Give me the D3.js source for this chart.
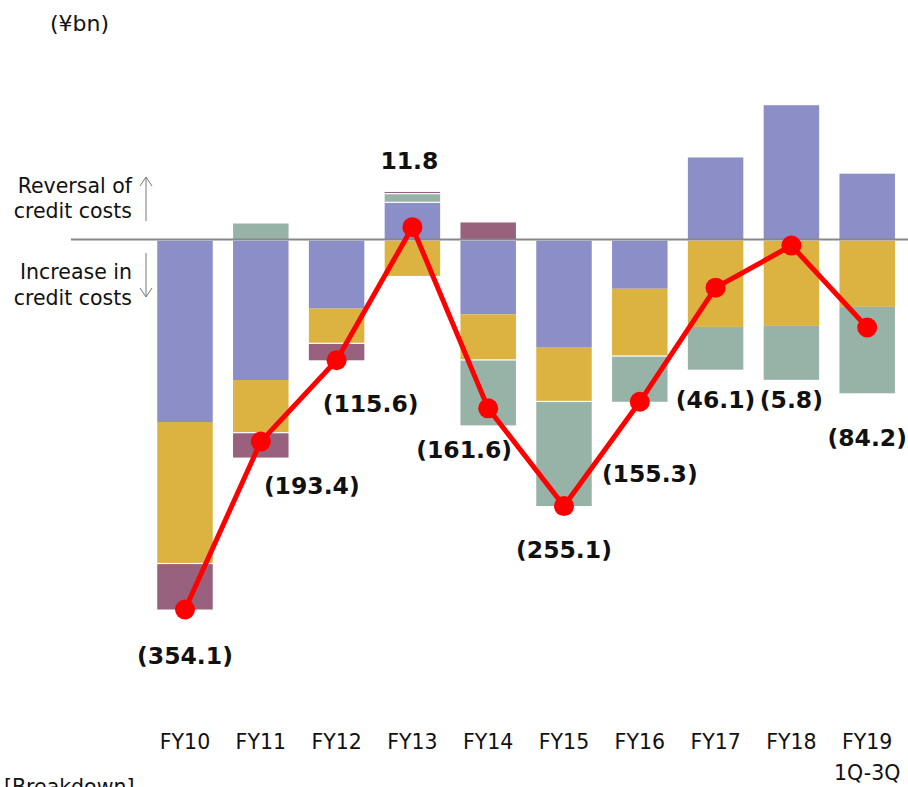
<!DOCTYPE html>
<html>
<head>
<meta charset="utf-8">
<style>
  body { margin: 0; background: #fff; }
  svg { display: block; }
  text { font-family: "DejaVu Sans", Verdana, sans-serif; fill: #111; }
  .val { font-weight: bold; font-size: 23.5px; }
  .tick { font-size: 20.5px; }
  .side { font-size: 20.5px; }
  .unit { font-size: 22px; }
</style>
<script src="https://cdn.jsdelivr.net/npm/d3@7"></script>
</head>
<body>
<script>
// data (¥bn)
var years = ["FY10","FY11","FY12","FY13","FY14","FY15","FY16","FY17","FY18","FY19"];
var subLabels = ["","","","","","","","","","1Q-3Q"];
var blueVals   = [-173.5, -133.3, -65.0, 35.0, -70.5, -102.4, -46.0, 78.5, 128.5, 63.0];
var yellowVals = [-136.0, -51.0, -33.8, -33.7, -44.2, -52.0, -65.0, -82.5, -81.5, -63.3];
var greenVals  = [0, 15.3, 0, 8.3, -63.2, -100.7, -44.3, -42.1, -52.8, -83.9];
var mauveVals  = [-44.6, -24.4, -16.8, 2.2, 16.3, 0, 0, 0, 0, 0];
var totals     = [-354.1, -193.4, -115.6, 11.8, -161.6, -255.1, -155.3, -46.1, -5.8, -84.2];

// label placement relative to each point
var labelDx = [0, 51, 34, -3, -24, 0, 10, 0, 0, 0];
var labelDy = [54, 52, 52, -58, 50, 51.5, 80.5, 120.5, 162.5, 119];

var keys = ["blue","yellow","green","mauve"];
var colors = {blue:"#8b8ec7", yellow:"#dcb341", green:"#97b3a7", mauve:"#98617e"};

var rows = years.map(function(y, i){
  return {year:y, blue:blueVals[i], yellow:yellowVals[i], green:greenVals[i], mauve:mauveVals[i]};
});

var W = 908, H = 787;
var svg = d3.select("body").append("svg").attr("width", W).attr("height", H);

var x = d3.scaleBand().domain(years).range([147.1, 905.1]).paddingInner(0.268).paddingOuter(0.134);
var y = d3.scaleLinear().domain([-354.1, 0]).range([609.5, 239.5]);

var stack = d3.stack().keys(keys).offset(d3.stackOffsetDiverging);
var series = stack(rows);

var gap = 1.2;
svg.append("g").selectAll("g").data(series).enter().append("g")
  .attr("fill", function(s){ return colors[s.key]; })
  .selectAll("rect").data(function(s){ return s.filter(function(d){ return d[1] !== d[0]; }); })
  .enter().append("rect")
  .attr("x", function(d){ return x(d.data.year); })
  .attr("width", x.bandwidth())
  .attr("y", function(d){
    var top = Math.min(y(d[0]), y(d[1]));
    return d[1] > 0 ? top : top + (d[0] < 0 ? gap : 0);
  })
  .attr("height", function(d){
    var h = Math.abs(y(d[0]) - y(d[1]));
    var inner = (d[1] > 0 ? d[0] > 0 : d[1] < 0);
    return Math.max(0.8, h - (inner ? gap : 0));
  });

// zero line
svg.append("line")
  .attr("x1", 71).attr("x2", W)
  .attr("y1", y(0)).attr("y2", y(0))
  .attr("stroke", "#888").attr("stroke-width", 2);

// total line
var line = d3.line()
  .x(function(d, i){ return x(years[i]) + x.bandwidth()/2; })
  .y(function(d){ return y(d); });

svg.append("path").datum(totals)
  .attr("d", line)
  .attr("fill", "none")
  .attr("stroke", "#ff0000")
  .attr("stroke-width", 5)
  .attr("stroke-linejoin", "round");

svg.append("g").selectAll("circle").data(totals).enter().append("circle")
  .attr("cx", function(d, i){ return x(years[i]) + x.bandwidth()/2; })
  .attr("cy", function(d){ return y(d); })
  .attr("r", 10)
  .attr("fill", "#ff0000");

function fmt(v){ return v < 0 ? "(" + d3.format(".1f")(-v) + ")" : d3.format(".1f")(v); }

svg.append("g").selectAll("text").data(totals).enter().append("text")
  .attr("class", "val")
  .attr("text-anchor", "middle")
  .attr("x", function(d, i){ return x(years[i]) + x.bandwidth()/2 + labelDx[i]; })
  .attr("y", function(d, i){ return y(d) + labelDy[i]; })
  .text(fmt);

// category labels
var xAxis = svg.append("g");
xAxis.selectAll("text.tick").data(years).enter().append("text")
  .attr("class", "tick")
  .attr("text-anchor", "middle")
  .attr("x", function(d){ return x(d) + x.bandwidth()/2; })
  .attr("y", 749)
  .text(function(d){ return d; });
xAxis.selectAll("text.sub").data(subLabels).enter().append("text")
  .attr("class", "tick sub")
  .attr("text-anchor", "middle")
  .attr("x", function(d, i){ return x(years[i]) + x.bandwidth()/2; })
  .attr("y", 780)
  .text(function(d){ return d; });

// unit and side notes
svg.append("text").attr("class", "unit").attr("x", 50).attr("y", 31).text("(¥bn)");

var notes = [["Reversal of", 193], ["credit costs", 218], ["Increase in", 279], ["credit costs", 305]];
svg.append("g").selectAll("text").data(notes).enter().append("text")
  .attr("class", "side")
  .attr("text-anchor", "end")
  .attr("x", 132)
  .attr("y", function(d){ return d[1]; })
  .text(function(d){ return d[0]; });

var arrows = svg.append("g").attr("stroke", "#777").attr("stroke-width", 1).attr("fill", "none");
arrows.append("path").attr("d", "M146,221 L146,177 M140,186 L146,177 L152,186");
arrows.append("path").attr("d", "M146,253 L146,297 M140,288 L146,297 L152,288");

svg.append("text").attr("class", "side").attr("x", 4).attr("y", 794).text("[Breakdown]");
</script>
</body>
</html>
